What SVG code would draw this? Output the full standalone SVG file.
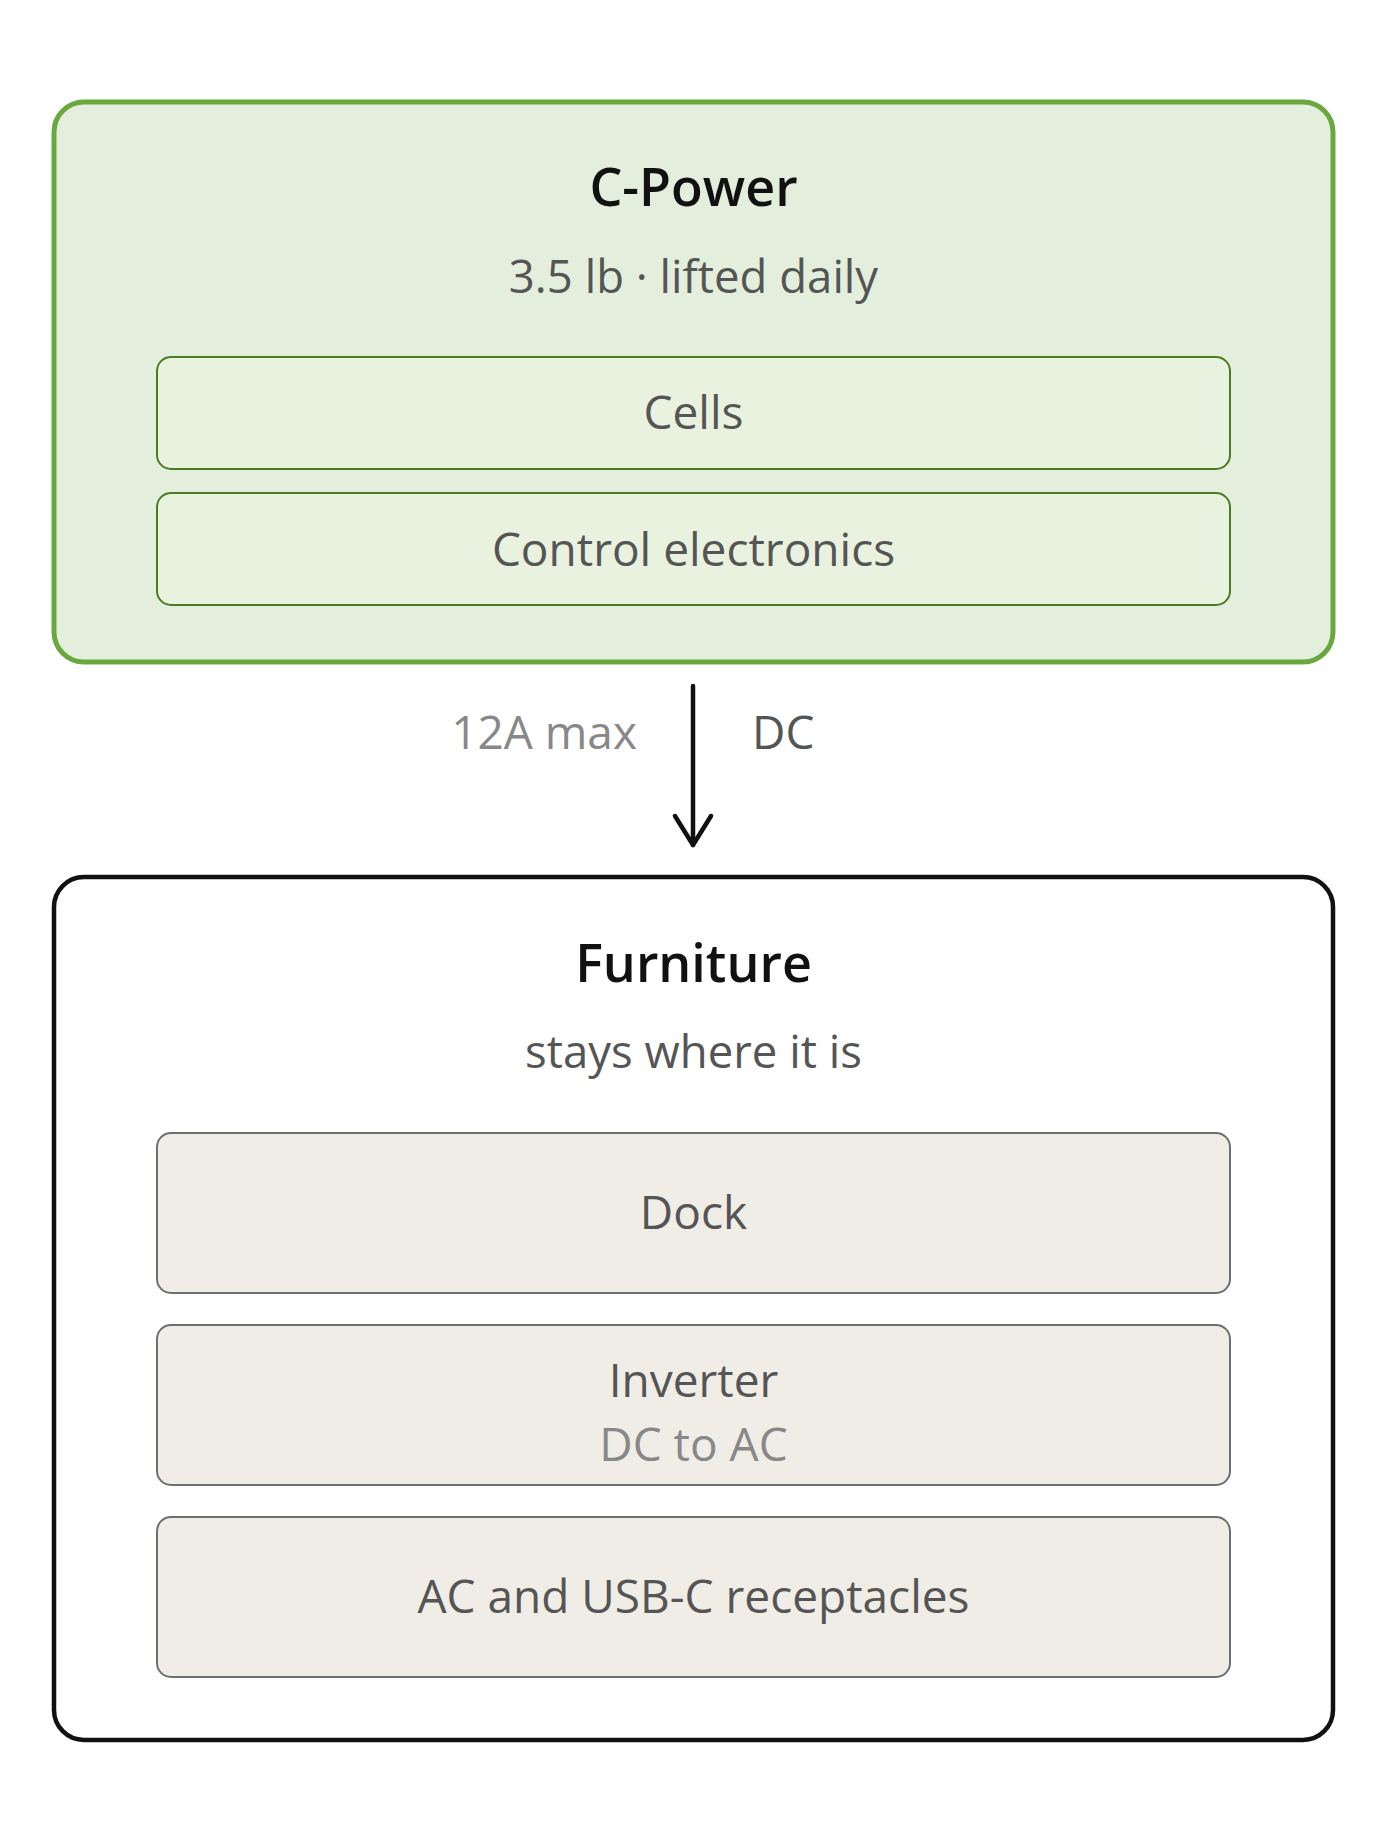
<svg xmlns="http://www.w3.org/2000/svg" width="1377" height="1836" viewBox="0 0 1377 1836">
  <style>
    text { font-family: "Open Sans", "Noto Sans", "Liberation Sans", sans-serif; text-anchor: middle; }
    .title { font-size: 52px; font-weight: 600; fill: #111111; }
    .sub { font-size: 45.5px; fill: #555555; }
    .lbl { font-size: 46px; fill: #555555; }
    .muted { font-size: 46px; fill: #888888; }
    .outer-green { fill: #e3efdc; stroke: #6aa83f; stroke-width: 5; }
    .inner-green { fill: #e9f2de; stroke: #4a7d22; stroke-width: 2; }
    .outer-black { fill: #ffffff; stroke: #111111; stroke-width: 4.5; }
    .inner-beige { fill: #f0ede6; stroke: #6e6e6e; stroke-width: 2; }
    .edge { fill: none; stroke: #111111; stroke-width: 4.5; stroke-linecap: round; stroke-linejoin: round; }
  </style>
  <rect width="1377" height="1836" fill="#ffffff"/>

  <g id="c-power">
    <rect class="outer-green" x="54" y="102" width="1279" height="560" rx="30"/>
    <text class="title" x="693.5" y="206">C-Power</text>
    <text class="sub" x="693.5" y="293">3.5 lb · lifted daily</text>
  </g>
  <g id="cells">
    <rect class="inner-green" x="157" y="357" width="1073" height="112" rx="14"/>
    <text class="lbl" x="693.5" y="429">Cells</text>
  </g>
  <g id="control-electronics">
    <rect class="inner-green" x="157" y="493" width="1073" height="112" rx="14"/>
    <text class="lbl" x="693.5" y="566">Control electronics</text>
  </g>

  <g id="furniture">
    <rect class="outer-black" x="54" y="877" width="1279" height="863" rx="30"/>
    <text class="title" x="693.5" y="982">Furniture</text>
    <text class="sub" x="693.5" y="1068">stays where it is</text>
  </g>
  <g id="dock">
    <rect class="inner-beige" x="157" y="1133" width="1073" height="160" rx="14"/>
    <text class="lbl" x="693.5" y="1229">Dock</text>
  </g>
  <g id="inverter">
    <rect class="inner-beige" x="157" y="1325" width="1073" height="160" rx="14"/>
    <text class="lbl" x="693.5" y="1397">Inverter</text>
    <text class="muted" x="693.5" y="1461">DC to AC</text>
  </g>
  <g id="receptacles">
    <rect class="inner-beige" x="157" y="1517" width="1073" height="160" rx="14"/>
    <text class="lbl" x="693.5" y="1613">AC and USB-C receptacles</text>
  </g>

  <g id="connectors">
    <path class="edge" d="M693 686 L693 845"/>
    <path class="edge" d="M675 816 L693 845 L711 816"/>
    <text class="muted" x="637" y="749" style="text-anchor:end">12A max</text>
    <text class="lbl" x="752" y="749" style="text-anchor:start">DC</text>
  </g>
</svg>
